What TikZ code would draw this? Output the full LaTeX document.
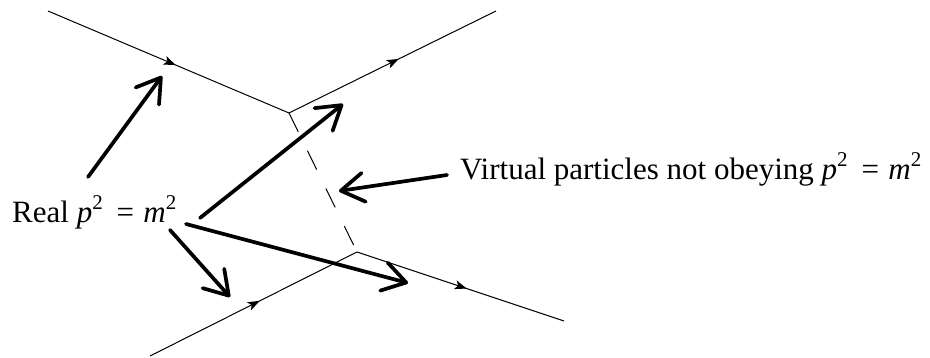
\documentclass[tikz,border=0pt]{standalone}
\usepackage{fontspec}
\setmainfont{Liberation Serif}
\usetikzlibrary{arrows.meta,decorations.markings}
\newcommand{\sqr}{\raisebox{0.42em}{\fontsize{21}{21}\selectfont 2}}
\newcommand{\pmrel}{\textit{p}\sqr\hspace{0.45em}=\hspace{0.3em}\textit{m}\sqr}
\begin{document}
\begin{tikzpicture}[x=1pt,y=-1pt,
  particle/.style={line width=1pt, postaction={decorate},
    decoration={markings, mark=at position 0.53 with {\arrow{Stealth[length=12pt,width=9pt,inset=3pt]}}}},
  virtualline/.style={line width=1pt, dash pattern=on 21pt off 21pt},
  pointer/.style={line width=3.7pt, line cap=round, -{Straight Barb[length=23pt,width=29pt,round]}},
  lbl/.style={font=\fontsize{31}{36}\selectfont, inner sep=0pt, anchor=base west}]
\useasboundingbox (0,0) rectangle (930,358);
% vertices and free ends
\coordinate (V1) at (289,113);
\coordinate (V2) at (357,252);
\coordinate (inA) at (48,11);
\coordinate (outB) at (496,11);
\coordinate (inC) at (150,356);
\coordinate (outD) at (564,321);
% particle lines
\draw[particle] (inA) -- (V1);
\draw[particle] (V1) -- (outB);
\draw[particle] (inC) -- (V2);
\draw[particle] (V2) -- (outD);
\draw[virtualline] (V1) -- (V2);
% labels
\node[lbl] (real) at (12,223) {Real \pmrel};
\node[lbl] (virt) at (460,180) {Virtual particles not obeying \pmrel};
% pointer ends
\coordinate (t1) at (88,177);  \coordinate (h1) at (162,76);
\coordinate (t2) at (200,218); \coordinate (h2) at (343,104);
\coordinate (t3) at (186,224); \coordinate (h3) at (408,283);
\coordinate (t4) at (170,230); \coordinate (h4) at (230,297);
\coordinate (t5) at (447,175); \coordinate (h5) at (339,191);
\draw[pointer] (t1) -- (h1);
\draw[pointer] (t2) -- (h2);
\draw[pointer] (t3) -- (h3);
\draw[pointer] (t4) -- (h4);
\draw[pointer] (t5) -- (h5);
\end{tikzpicture}
\end{document}
